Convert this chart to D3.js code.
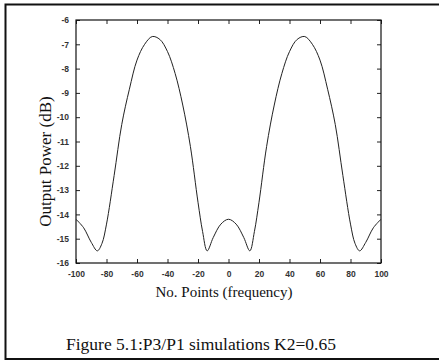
<!DOCTYPE html>
<html lang="en">
<head>
  <meta charset="UTF-8">
  <title>P3/P1 simulations K2=0.65</title>
  <style>
    body { margin: 0; background: #fff; }
    svg { display: block; background: #fff; }
    .tick text { font-family: "Liberation Sans", Arial, sans-serif; font-size: 8.5px; font-weight: bold; fill: #333; }
    .tick line { stroke: #222; }
    .domain { stroke: none; }
    .serif { font-family: "Liberation Serif", "Times New Roman", serif; fill: #111; }
  </style>
</head>
<body>
  <svg id="chart" width="439" height="364"></svg>
  <script src="https://d3js.org/d3.v7.min.js"></script>
  <script>
    // values
    const points = [-100, -95, -90, -86, -83, -80, -75, -70, -65, -60, -55, -50, -45, -40, -35, -30, -25, -20, -17, -14, -10, -5,
      0, 5, 10, 14, 17, 20, 25, 30, 35, 40, 45, 50, 55, 60, 65, 70, 75, 80, 83, 86, 90, 95, 100]
    const power = [-14.2, -14.55, -15.15, -15.5, -15.2, -14.4, -12.4, -10.3, -8.85, -7.65, -7.0, -6.68, -6.8, -7.3, -8.2, -9.5, -11.2, -13.5, -14.7, -15.5, -14.95, -14.4,
      -14.2, -14.4, -14.95, -15.5, -14.7, -13.5, -11.2, -9.5, -8.2, -7.3, -6.8, -6.68, -7.0, -7.65, -8.85, -10.3, -12.4, -14.4, -15.2, -15.5, -15.15, -14.55, -14.2]
    const xTicks = [-100, -80, -60, -40, -20, 0, 20, 40, 60, 80, 100]
    const yTicks = [-6, -7, -8, -9, -10, -11, -12, -13, -14, -15, -16]

    const svg = d3.select('#chart')
    const plotLeft = 76, plotRight = 381, plotTop = 20, plotBottom = 263
    const plain = d => String(d)   // hyphen minus like the original

    const x = d3.scaleLinear().domain([-100, 100]).range([plotLeft, plotRight])
    const y = d3.scaleLinear().domain([-16, -6]).range([plotBottom, plotTop])

    // page frame
    svg.append('path')
      .attr('d', 'M445,4.5 H5.5 V359 H445')
      .attr('fill', 'none')
      .attr('stroke', '#111')
      .attr('stroke-width', 2)

    // axes with inward ticks, matlab style box
    svg.append('g')
      .attr('transform', `translate(0,${plotBottom})`)
      .call(d3.axisBottom(x).tickValues(xTicks).tickFormat(plain).tickSizeInner(-4).tickSizeOuter(0).tickPadding(8))
    svg.append('g')
      .attr('transform', `translate(0,${plotTop})`)
      .call(d3.axisTop(x).tickValues(xTicks).tickSizeInner(-4).tickSizeOuter(0).tickFormat(''))
    svg.append('g')
      .attr('transform', `translate(${plotLeft},0)`)
      .call(d3.axisLeft(y).tickValues(yTicks).tickFormat(plain).tickSizeInner(-4).tickSizeOuter(0).tickPadding(7))
    svg.append('g')
      .attr('transform', `translate(${plotRight},0)`)
      .call(d3.axisRight(y).tickValues(yTicks).tickSizeInner(-4).tickSizeOuter(0).tickFormat(''))

    svg.append('rect')
      .attr('x', plotLeft).attr('y', plotTop)
      .attr('width', plotRight - plotLeft).attr('height', plotBottom - plotTop)
      .attr('fill', 'none')
      .attr('stroke', '#111')
      .attr('stroke-width', 1.2)

    const line = d3.line()
      .x((d, i) => x(points[i]))
      .y(d => y(d))
      .curve(d3.curveCatmullRom.alpha(0.5))

    svg.append('path')
      .datum(power)
      .attr('d', line)
      .attr('fill', 'none')
      .attr('stroke', '#222')
      .attr('stroke-width', 1)

    svg.append('text')
      .attr('class', 'serif')
      .attr('transform', `translate(51,${(95 + 228) / 2}) rotate(-90)`)
      .attr('text-anchor', 'middle')
      .style('font-size', '17px')
      .text('Output Power (dB)')

    svg.append('text')
      .attr('class', 'serif')
      .attr('x', 224).attr('y', 297)
      .attr('text-anchor', 'middle')
      .style('font-size', '15px')
      .text('No. Points (frequency)')

    svg.append('text')
      .attr('class', 'serif')
      .attr('x', 201).attr('y', 350)
      .attr('text-anchor', 'middle')
      .style('font-size', '17.5px')
      .text('Figure 5.1:P3/P1 simulations K2=0.65')
  </script>
</body>
</html>
